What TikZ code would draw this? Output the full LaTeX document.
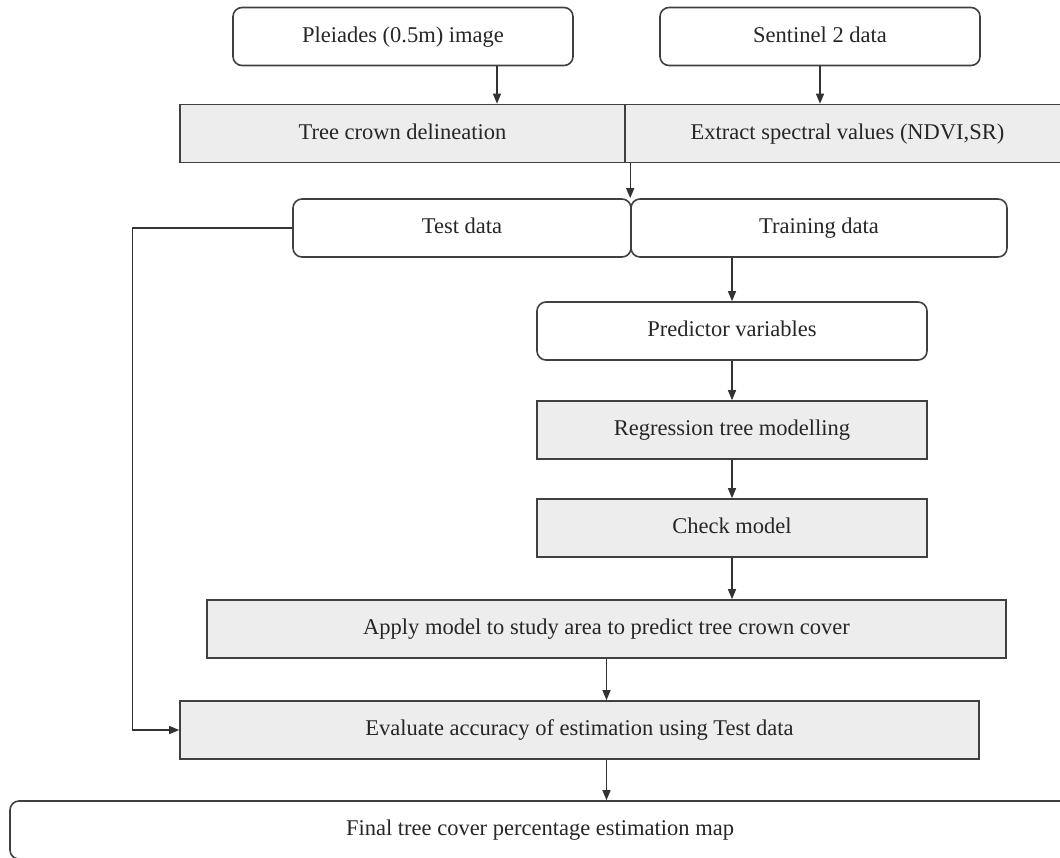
\documentclass[tikz,border=0pt]{standalone}
\usepackage{fontspec}
\setmainfont{Liberation Serif}
\usepackage{tikz}
\usetikzlibrary{arrows.meta}
\usetikzlibrary{calc}

\begin{document}
\begin{tikzpicture}[x=1pt,y=-1pt,
	every node/.style={font=\fontsize{22.5}{26}\selectfont,text=black!85,text height=15pt,text depth=4pt},
	datum/.style={draw=black!75,line width=1.6pt,rounded corners=9pt,minimum height=58pt,inner sep=0pt},
	process/.style={draw=black!75,line width=1.6pt,fill=black!7,minimum height=58pt,inner sep=0pt},
	flow/.style={draw=black!80,line width=1.3pt,-{Triangle[length=10pt,width=8pt]}}]
	\useasboundingbox (0,0) rectangle (1060,857);
	\node[datum,minimum width=340pt] (pleiades) at (403,36.5) {Pleiades (0.5m) image};
	\node[datum,minimum width=320pt] (sentinel) at (820,36.5) {Sentinel 2 data};
	\node[process,minimum width=445pt] (crown) at (402.5,133.5) {Tree crown delineation};
	\node[process,minimum width=445pt] (extract) at (847.5,133.5) {Extract spectral values (NDVI,SR)};
	\node[datum,minimum width=338pt] (test) at (462,228) {Test data};
	\node[datum,minimum width=376pt] (training) at (819,228) {Training data};
	\node[datum,minimum width=390pt] (predictor) at (732,331) {Predictor variables};
	\node[process,minimum width=390pt] (regression) at (732,430) {Regression tree modelling};
	\node[process,minimum width=390pt] (check) at (732,528) {Check model};
	\node[process,minimum width=799pt] (apply) at (606.5,629) {Apply model to study area to predict tree crown cover};
	\node[process,minimum width=799pt] (evaluate) at (579.5,730) {Evaluate accuracy of estimation using Test data};
	\node[datum,minimum width=1060pt] (final) at (540,830) {Final tree cover percentage estimation map};
	\coordinate (p1) at ([xshift=94pt]pleiades.south);
	\draw[flow] (p1) -- (p1 |- crown.north);
	\draw[flow] (sentinel.south) -- (sentinel.south |- extract.north);
	\draw[flow] (training.north west |- crown.south) -- (training.north west);
	\draw[flow] (predictor.north |- training.south) -- (predictor.north);
	\draw[flow] (predictor) -- (regression);
	\draw[flow] (regression) -- (check);
	\draw[flow] (check.south) -- (check.south |- apply.north);
	\draw[flow] (apply.south) -- (apply.south |- evaluate.north);
	\draw[flow] (apply.south |- evaluate.south) -- (apply.south |- final.north);
	\draw[flow] (test.west) -- ++(-160,0) |- (evaluate.west);
\end{tikzpicture}
\end{document}
